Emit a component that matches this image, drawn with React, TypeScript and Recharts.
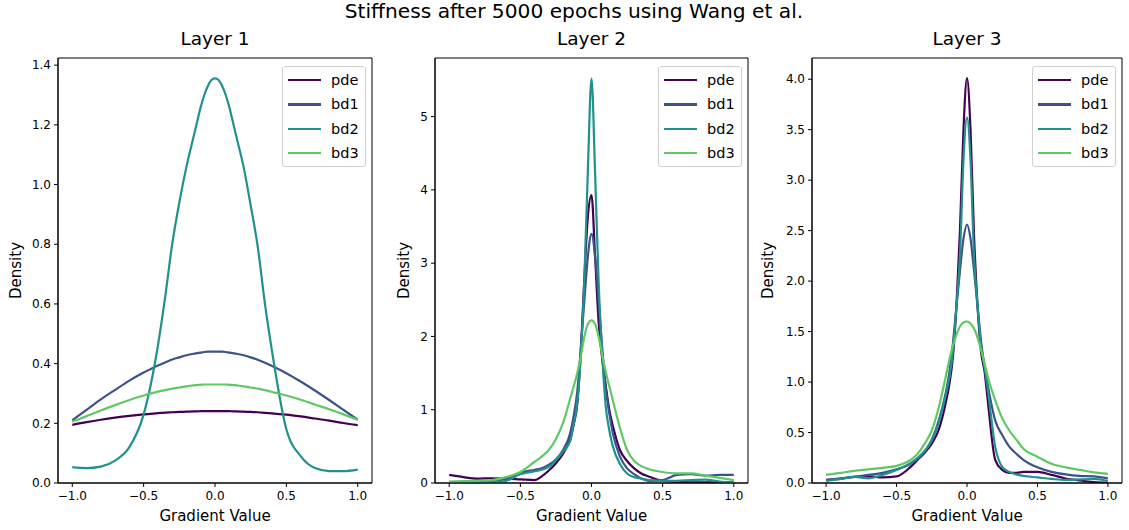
import React from 'react';
import { LineChart, Line, XAxis, YAxis, ReferenceArea } from 'recharts';

const FONT = '"DejaVu Sans", Verdana, sans-serif';

const suptitle = 'Stiffness after 5000 epochs using Wang et al.';
const layerTitles = ['Layer 1', 'Layer 2', 'Layer 3'];
const xLabel = 'Gradient Value';
const yLabel = 'Density';

const seriesNames = ['pde', 'bd1', 'bd2', 'bd3'];
const seriesColors = ['#440154', '#3b528b', '#21918c', '#5ec962'];

// gradient values (x grid of the density curves)
const xs = [-1, -0.9, -0.8, -0.7, -0.6, -0.5, -0.4, -0.35, -0.3, -0.25, -0.2, -0.15, -0.125, -0.1, -0.075, -0.05, -0.025, 0,
  0.025, 0.05, 0.075, 0.1, 0.125, 0.15, 0.2, 0.25, 0.3, 0.35, 0.4, 0.5, 0.6, 0.7, 0.8, 0.9, 1];

const xTicks = [-1, -0.5, 0, 0.5, 1];
const layer1Ticks = [0, 0.2, 0.4, 0.6, 0.8, 1.0, 1.2, 1.4];
const layer2Ticks = [0, 1, 2, 3, 4, 5];
const layer3Ticks = [0, 0.5, 1.0, 1.5, 2.0, 2.5, 3.0, 3.5, 4.0];

// Layer 1
const l1Pde = [0.195, 0.204, 0.212, 0.219, 0.225, 0.23, 0.234, 0.236, 0.237, 0.238, 0.239, 0.24, 0.24, 0.241, 0.241, 0.241, 0.241, 0.241,
  0.241, 0.241, 0.241, 0.241, 0.24, 0.24, 0.239, 0.238, 0.237, 0.235, 0.233, 0.229, 0.223, 0.216, 0.209, 0.201, 0.194];
const l1Bd1 = [0.21, 0.245, 0.28, 0.312, 0.343, 0.37, 0.394, 0.404, 0.414, 0.421, 0.428, 0.433, 0.435, 0.437, 0.439, 0.44, 0.44, 0.44,
  0.44, 0.44, 0.439, 0.437, 0.435, 0.433, 0.428, 0.421, 0.413, 0.403, 0.392, 0.368, 0.34, 0.31, 0.278, 0.245, 0.212];
const l1Bd2 = [0.053, 0.05, 0.055, 0.075, 0.12, 0.23, 0.46, 0.62, 0.8, 0.94, 1.06, 1.16, 1.21, 1.26, 1.3, 1.33, 1.35, 1.356,
  1.35, 1.33, 1.3, 1.26, 1.21, 1.16, 1.06, 0.93, 0.79, 0.6, 0.44, 0.18, 0.09, 0.05, 0.04, 0.04, 0.045];
const l1Bd3 = [0.205, 0.224, 0.243, 0.261, 0.278, 0.293, 0.306, 0.311, 0.316, 0.32, 0.324, 0.327, 0.328, 0.329, 0.33, 0.33, 0.33, 0.33,
  0.33, 0.33, 0.33, 0.329, 0.328, 0.327, 0.324, 0.32, 0.316, 0.311, 0.305, 0.293, 0.279, 0.263, 0.247, 0.23, 0.212];

// Layer 2
const l2Pde = [0.11, 0.08, 0.06, 0.065, 0.06, 0.05, 0.04, 0.09, 0.17, 0.27, 0.4, 0.6, 0.8, 1.08, 1.8, 2.8, 3.65, 3.93,
  3.1, 2.2, 1.7, 1.33, 1.0, 0.78, 0.45, 0.3, 0.2, 0.13, 0.09, 0.03, 0.015, 0.01, 0.01, 0.01, 0.01];
const l2Bd1 = [0.0, 0.0, 0.01, 0.02, 0.06, 0.14, 0.18, 0.2, 0.25, 0.32, 0.45, 0.68, 0.92, 1.25, 1.85, 2.5, 3.1, 3.4,
  3.1, 2.5, 1.85, 1.3, 0.95, 0.68, 0.36, 0.2, 0.12, 0.06, 0.03, 0.04, 0.11, 0.12, 0.1, 0.11, 0.11];
const l2Bd2 = [0.0, 0.0, 0.005, 0.01, 0.03, 0.12, 0.16, 0.18, 0.22, 0.31, 0.43, 0.57, 0.8, 1.1, 1.75, 2.8, 4.3, 5.52,
  4.25, 2.75, 1.75, 1.05, 0.72, 0.5, 0.26, 0.13, 0.08, 0.06, 0.04, 0.03, 0.03, 0.04, 0.045, 0.02, 0.01];
const l2Bd3 = [0.02, 0.025, 0.03, 0.04, 0.08, 0.15, 0.29, 0.36, 0.45, 0.6, 0.82, 1.15, 1.32, 1.5, 1.73, 2.0, 2.17, 2.22,
  2.17, 2.0, 1.75, 1.52, 1.32, 1.13, 0.75, 0.45, 0.3, 0.23, 0.19, 0.15, 0.13, 0.13, 0.1, 0.07, 0.04];

// Layer 3
const l3Pde = [0.03, 0.04, 0.06, 0.065, 0.055, 0.065, 0.16, 0.23, 0.3, 0.39, 0.53, 0.8, 0.98, 1.25, 1.75, 2.5, 3.5, 4.01,
  3.5, 2.45, 1.75, 1.3, 1.1, 0.78, 0.23, 0.13, 0.1, 0.1, 0.11, 0.11, 0.08, 0.045, 0.025, 0.01, 0.005];
const l3Bd1 = [0.03, 0.045, 0.06, 0.08, 0.1, 0.135, 0.19, 0.24, 0.31, 0.43, 0.62, 0.9, 1.1, 1.38, 1.75, 2.1, 2.42, 2.56,
  2.42, 2.1, 1.75, 1.4, 1.15, 0.95, 0.62, 0.475, 0.36, 0.29, 0.23, 0.155, 0.11, 0.085, 0.07, 0.065, 0.045];
const l3Bd2 = [0.02, 0.04, 0.06, 0.045, 0.08, 0.13, 0.2, 0.25, 0.32, 0.42, 0.6, 0.88, 1.05, 1.3, 1.75, 2.25, 3.2, 3.62,
  3.2, 2.25, 1.75, 1.35, 1.15, 0.9, 0.36, 0.16, 0.11, 0.085, 0.07, 0.055, 0.04, 0.03, 0.035, 0.04, 0.02];
const l3Bd3 = [0.08, 0.1, 0.12, 0.135, 0.15, 0.17, 0.23, 0.29, 0.39, 0.52, 0.75, 1.06, 1.22, 1.36, 1.47, 1.55, 1.59, 1.6,
  1.58, 1.53, 1.44, 1.32, 1.18, 1.04, 0.82, 0.64, 0.52, 0.43, 0.34, 0.26, 0.19, 0.155, 0.13, 0.105, 0.09];

function buildRows(pde: number[], bd1: number[], bd2: number[], bd3: number[]) {
  return xs.map((x, i) => ({ x, pde: pde[i], bd1: bd1[i], bd2: bd2[i], bd3: bd3[i] }));
}

const fmtSigned = (v: number, digits: number) => (v < 0 ? '\u2212' : '') + Math.abs(v).toFixed(digits);

const X_DOMAIN: [number, number] = [-1.1, 1.1];
const PLOT_TOP = 58;
const PLOT_BOTTOM = 483;
const TOTAL_H = 530;
const Y_AXIS_W = 50;
const X_AXIS_H = 30;

type PanelProps = {
  left: number;
  width: number;
  plotLeft: number;
  plotRight: number;
  title: string;
  rows: any[];
  yMax: number;
  yTicks: number[];
  yDigits: number;
  yLabelDist: number;
};

function LegendBox({ x, y }: { x: number; y: number }) {
  return (
    <div
      style={{
        position: 'absolute',
        left: x,
        top: y,
        width: 82,
        height: 99,
        border: '1px solid #d0d0d0',
        borderRadius: 3,
        background: 'rgba(255,255,255,0.8)',
        fontFamily: FONT,
        fontSize: 14.5,
        color: '#000',
      }}
    >
      {seriesNames.map((name, i) => (
        <div key={name} style={{ position: 'absolute', left: 0, top: 3 + i * 24.3, height: 20, width: 82 }}>
          <div style={{ position: 'absolute', left: 5, top: 9, width: 33, height: 2.4, background: seriesColors[i] }} />
          <div style={{ position: 'absolute', left: 48, top: 0, lineHeight: '20px', whiteSpace: 'nowrap' }}>{name}</div>
        </div>
      ))}
    </div>
  );
}

function Panel(p: PanelProps) {
  const marginLeft = p.plotLeft - p.left - Y_AXIS_W;
  const marginRight = p.left + p.width - p.plotRight;
  const plotCenter = (p.plotLeft + p.plotRight) / 2 - p.left;
  return (
    <div style={{ position: 'absolute', left: p.left, top: 0, width: p.width, height: TOTAL_H }}>
      <div
        style={{
          position: 'absolute',
          left: plotCenter,
          top: 30,
          transform: 'translateX(-50%)',
          fontFamily: FONT,
          fontSize: 18.5,
          lineHeight: '18px',
          whiteSpace: 'nowrap',
          color: '#000',
        }}
      >
        {p.title}
      </div>
      <LineChart
        width={p.width}
        height={TOTAL_H}
        data={p.rows}
        margin={{ top: PLOT_TOP, right: marginRight, bottom: TOTAL_H - PLOT_BOTTOM - X_AXIS_H, left: marginLeft }}
      >
        <XAxis
          dataKey="x"
          type="number"
          domain={X_DOMAIN}
          ticks={xTicks}
          allowDataOverflow
          height={X_AXIS_H}
          tickFormatter={(v: number) => fmtSigned(v, 1)}
          tick={{ fontFamily: FONT, fontSize: 12, fill: '#000' }}
          tickSize={4}
          tickMargin={4}
          axisLine={{ stroke: '#000', strokeWidth: 1 }}
          tickLine={{ stroke: '#000', strokeWidth: 1 }}
          label={{
            content: (props: any) => {
              const vb = props.viewBox || {};
              return (
                <text
                  x={vb.x + vb.width / 2}
                  y={vb.y + 38}
                  textAnchor="middle"
                  fontFamily={FONT}
                  fontSize={15}
                  fill="#000"
                >
                  {xLabel}
                </text>
              );
            },
          }}
        />
        <YAxis
          type="number"
          domain={[0, p.yMax]}
          ticks={p.yTicks}
          allowDataOverflow
          width={Y_AXIS_W}
          tickFormatter={(v: number) => fmtSigned(v, p.yDigits)}
          tick={{ fontFamily: FONT, fontSize: 12, fill: '#000' }}
          tickSize={4}
          tickMargin={3}
          axisLine={{ stroke: '#000', strokeWidth: 1 }}
          tickLine={{ stroke: '#000', strokeWidth: 1 }}
          label={{
            content: (props: any) => {
              const vb = props.viewBox || {};
              const cx = vb.x + vb.width - p.yLabelDist;
              const cy = vb.y + vb.height / 2;
              return (
                <text
                  x={cx}
                  y={cy}
                  textAnchor="middle"
                  dominantBaseline="central"
                  transform={`rotate(-90 ${cx} ${cy})`}
                  fontFamily={FONT}
                  fontSize={15}
                  fill="#000"
                >
                  {yLabel}
                </text>
              );
            },
          }}
        />
        <ReferenceArea
          x1={X_DOMAIN[0]}
          x2={X_DOMAIN[1]}
          y1={0}
          y2={p.yMax}
          fill="none"
          fillOpacity={0}
          stroke="#000"
          strokeWidth={1}
          ifOverflow="visible"
        />
        {seriesNames.map((name, i) => (
          <Line
            key={name}
            type="monotone"
            dataKey={name}
            stroke={seriesColors[i]}
            strokeWidth={2.2}
            dot={false}
            activeDot={false}
            isAnimationActive={false}
          />
        ))}
      </LineChart>
      <LegendBox x={p.plotRight - p.left - 90} y={PLOT_TOP + 8} />
    </div>
  );
}

export default function App() {
  const rows1 = buildRows(l1Pde, l1Bd1, l1Bd2, l1Bd3);
  const rows2 = buildRows(l2Pde, l2Bd1, l2Bd2, l2Bd3);
  const rows3 = buildRows(l3Pde, l3Bd1, l3Bd2, l3Bd3);
  return (
    <div style={{ position: 'absolute', left: 0, top: 0, width: 1129, height: 530, background: '#fff', overflow: 'hidden' }}>
      <div
        style={{
          position: 'absolute',
          left: 574,
          top: 1,
          transform: 'translateX(-50%)',
          fontFamily: FONT,
          fontSize: 20.2,
          lineHeight: '20px',
          whiteSpace: 'nowrap',
          color: '#000',
        }}
      >
        {suptitle}
      </div>
      <Panel left={0} width={380} plotLeft={58} plotRight={372} title={layerTitles[0]} rows={rows1}
        yMax={1.424} yTicks={layer1Ticks} yDigits={1} yLabelDist={42} />
      <Panel left={380} width={375} plotLeft={435} plotRight={748} title={layerTitles[1]} rows={rows2}
        yMax={5.8} yTicks={layer2Ticks} yDigits={0} yLabelDist={31} />
      <Panel left={755} width={374} plotLeft={812} plotRight={1122} title={layerTitles[2]} rows={rows3}
        yMax={4.21} yTicks={layer3Ticks} yDigits={1} yLabelDist={44} />
    </div>
  );
}
